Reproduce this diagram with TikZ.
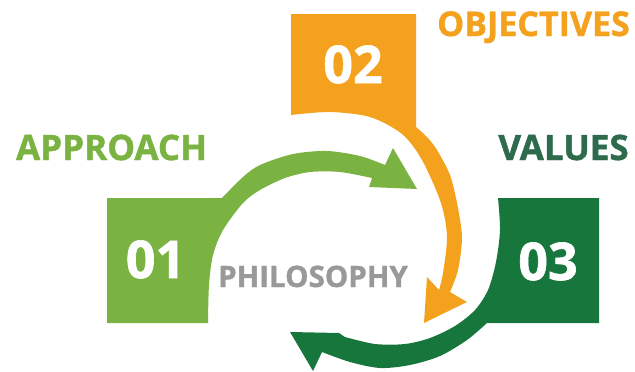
\documentclass[tikz,border=0pt]{standalone}
\usepackage{fontspec}
\setmainfont{Open Sans}[BoldFeatures={FakeBold=1.2}]
\usetikzlibrary{positioning}

\definecolor{appgreen}{HTML}{7AB342}
\definecolor{objorange}{HTML}{F4A11D}
\definecolor{valgreen}{HTML}{17763C}
\definecolor{valtext}{HTML}{2E6B4C}
\definecolor{philgray}{HTML}{999999}

\begin{document}
\begin{tikzpicture}[x=1pt,y=-1pt,
  title/.style={font=\fontsize{35}{35}\selectfont\bfseries,inner sep=0pt,anchor=base},
  num/.style={font=\fontsize{52}{52}\selectfont\bfseries,text=white,inner sep=0pt,anchor=base},
  hub/.style={font=\fontsize{29.5}{29.5}\selectfont\bfseries,text=philgray,inner sep=0pt,anchor=base}]
  \useasboundingbox (0,0) rectangle (635,372);
  %% 01 box and its arrow
  \fill[appgreen] (107,198) -- (222,198)
    -- plot[smooth] coordinates {(222,198) (243,177) (260,165) (293,154) (327,151) (360,156) (385,165)}
    -- (393,148) -- (417,189) -- (369,187)
    -- plot[smooth] coordinates {(372,178) (340,172) (310,172) (285,178) (260,190) (243,203) (223,230) (213,255) (209,285) (208,323)}
    -- (107,323) -- cycle;
  %% 02 box and its arrow
  \fill[objorange] (291,14) -- (416,14) -- (416,127)
    -- plot[smooth] coordinates {(416,127) (427,137) (437,150) (450,175) (457,203) (462,237) (458,270) (450,292)}
    -- (467,302) -- (424,323) -- (427,277)
    -- plot[smooth] coordinates {(439,290) (443,273) (447,237) (441,203) (422,160) (402,134) (370,117) (330,112) (291,115)}
    -- cycle;
  %% 03 box and its arrow
  \fill[valgreen] (498,198) -- (599,198) -- (599,323) -- (487,323)
    -- plot[smooth] coordinates {(487,323) (467,340) (440,356) (410,365) (380,368) (350,362) (322,352)}
    -- (313,371) -- (290,332) -- (339,333)
    -- plot[smooth] coordinates {(345,337) (375,344) (405,344) (430,338) (455,326) (475,310) (488,290) (496,262) (500,230) (498,198)}
    -- cycle;
  %% labels
  \node[title,text=appgreen] (approach) at (111.5,160) {APPROACH};
  \node[title,text=objorange,font=\fontsize{34}{34}\selectfont\bfseries] (objectives) at (533.5,36) {OBJECTIVES};
  \node[title,text=valtext] (values) at (563.5,160) {VALUES};
  \node[hub] (philosophy) at (313,287) {PHILOSOPHY};
  \node[num] (one) at (155.5,278) {01};
  \node[num] (two) at (353,83) {02};
  \node[num] (three) at (548,280) {03};
\end{tikzpicture}
\end{document}
